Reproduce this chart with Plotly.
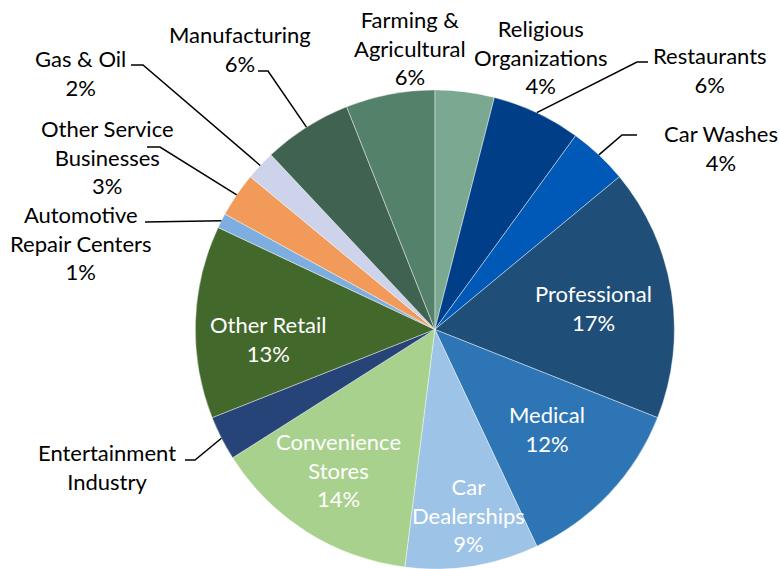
import math
import plotly.graph_objects as go

# Share of businesses by industry, clockwise from 12 o'clock
categories = [
    "Religious Organizations", "Restaurants", "Car Washes", "Professional",
    "Medical", "Car Dealerships", "Convenience Stores", "Entertainment Industry",
    "Other Retail", "Automotive Repair Centers", "Other Service Businesses",
    "Gas & Oil", "Manufacturing", "Farming & Agricultural",
]
shares = [4, 6, 4, 17, 12, 9, 14, 3, 13, 1, 3, 2, 6, 6]
slice_colors = [
    "#7aa890", "#003f87", "#0059b6", "#1f4e79", "#2e75b6", "#9dc3e6", "#a9d18e",
    "#264478", "#43682b", "#7eaee0", "#f19a5a", "#cdd3ea", "#3f6350", "#548169",
]
# How each category name is broken into lines; show_pct False hides the percentage
label_lines = {
    "Religious Organizations": ["Religious", "Organizations"],
    "Restaurants": ["Restaurants"],
    "Car Washes": ["Car Washes"],
    "Professional": ["Professional"],
    "Medical": ["Medical"],
    "Car Dealerships": ["Car", "Dealerships"],
    "Convenience Stores": ["Convenience", "Stores"],
    "Entertainment Industry": ["Entertainment", "Industry"],
    "Other Retail": ["Other Retail"],
    "Automotive Repair Centers": ["Automotive", "Repair Centers"],
    "Other Service Businesses": ["Other Service", "Businesses"],
    "Gas & Oil": ["Gas & Oil"],
    "Manufacturing": ["Manufacturing"],
    "Farming & Agricultural": ["Farming &", "Agricultural"],
}
show_pct = {c: c != "Entertainment Industry" for c in categories}
inside = {"Professional", "Medical", "Car Dealerships", "Convenience Stores", "Other Retail"}

W, H = 780, 569
DOM_X = [0.25, 0.865]
DOM_Y = [0.0, 0.842]
FONT = "Lato, 'Open Sans', sans-serif"
FS = 22

# Label block centres in pixels
label_pos = {
    "Religious Organizations": (541, 57),
    "Restaurants": (710, 70),
    "Car Washes": (721, 148),
    "Professional": (593, 308),
    "Medical": (547, 429),
    "Car Dealerships": (468, 515),
    "Convenience Stores": (338, 470),
    "Entertainment Industry": (107, 467),
    "Other Retail": (268, 339),
    "Automotive Repair Centers": (81, 243),
    "Other Service Businesses": (107, 157),
    "Gas & Oil": (80, 73),
    "Manufacturing": (240, 49),
    "Farming & Agricultural": (410, 48),
}
# Leader line bends near each outside label (pixels); the line ends on the slice rim
leader_bends = {
    "Gas & Oil": [(131, 65), (143, 65)],
    "Manufacturing": [(258, 71), (268, 71)],
    "Other Service Businesses": [(147, 147), (160, 147)],
    "Automotive Repair Centers": [(145, 222)],
    "Entertainment Industry": [(185, 460), (195, 460)],
    "Restaurants": [(648, 62), (637, 62)],
    "Car Washes": [(637, 135), (622, 135)],
}


def to_paper(px, py):
    return px / W, 1 - py / H


fig = go.Figure(go.Pie(
    labels=categories,
    values=shares,
    sort=False,
    direction="clockwise",
    rotation=0,
    marker=dict(colors=slice_colors, line=dict(color="rgba(255,255,255,0.7)", width=0.6)),
    textinfo="none",
    hoverinfo="label+percent",
    domain=dict(x=DOM_X, y=DOM_Y),
))

# Pie geometry in pixels, from the domain
dw = (DOM_X[1] - DOM_X[0]) * W
dh = (DOM_Y[1] - DOM_Y[0]) * H
radius = min(dw, dh) / 2
cx = (DOM_X[0] + DOM_X[1]) / 2 * W
cy = H - (DOM_Y[0] + DOM_Y[1]) / 2 * H

total = sum(shares)
annotations = []
shapes = []
cum = 0
for name, val in zip(categories, shares):
    mid = (cum + val / 2) / total * 2 * math.pi
    cum += val
    lines = list(label_lines[name])
    if show_pct[name]:
        lines.append(f"{round(val / total * 100)}%")
    px, py = label_pos[name]
    x, y = to_paper(px, py)
    annotations.append(dict(
        x=x, y=y, xref="paper", yref="paper", xanchor="center", yanchor="middle",
        text="<br>".join(lines), showarrow=False, align="center",
        font=dict(family=FONT, size=FS, color="white" if name in inside else "black"),
    ))
    if name in leader_bends:
        ex = cx + radius * math.sin(mid)
        ey = cy - radius * math.cos(mid)
        pts = leader_bends[name] + [(ex, ey)]
        path = ""
        for i, (qx, qy) in enumerate(pts):
            fx, fy = to_paper(qx, qy)
            path += ("M" if i == 0 else " L") + f" {fx:.5f},{fy:.5f}"
        shapes.append(dict(type="path", xref="paper", yref="paper", path=path,
                           line=dict(color="black", width=1.5)))

fig.update_layout(
    width=W, height=H,
    margin=dict(l=0, r=0, t=0, b=0),
    paper_bgcolor="white", plot_bgcolor="white",
    showlegend=False,
    annotations=annotations,
    shapes=shapes,
)

fig.write_html("out.html")
